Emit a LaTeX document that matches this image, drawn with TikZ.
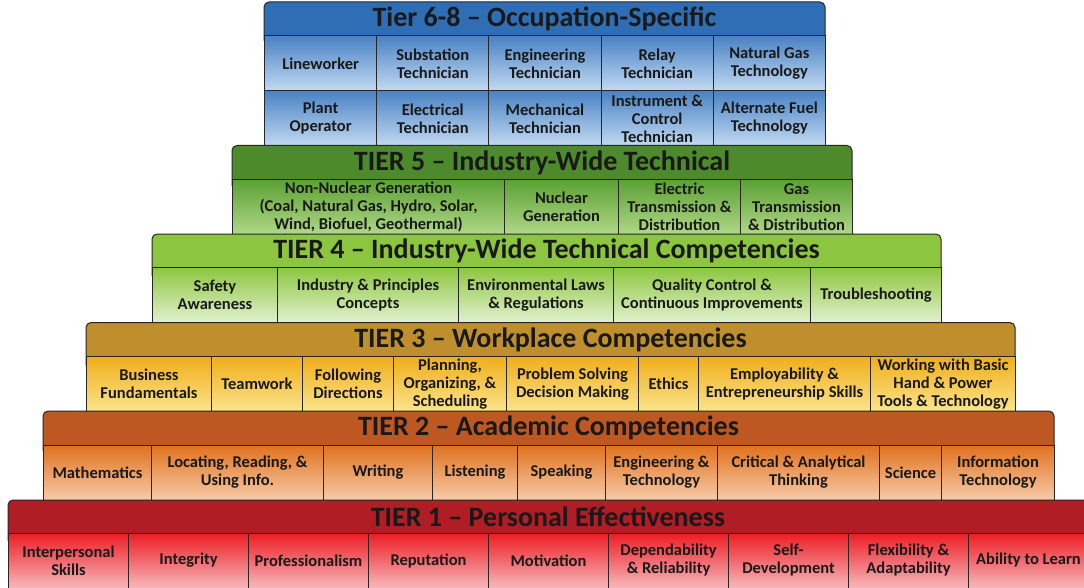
\documentclass[tikz,border=0pt]{standalone}
\usepackage{fontspec}
\setmainfont{Carlito}
\usepackage{tikz}

\definecolor{bandsix}{HTML}{2F6EB5}
\definecolor{topsix}{HTML}{4A82C4}
\definecolor{botsix}{HTML}{C3DAF2}
\definecolor{bandfive}{HTML}{4C8A2C}
\definecolor{topfive}{HTML}{5CA134}
\definecolor{botfive}{HTML}{B0D888}
\definecolor{bandfour}{HTML}{8CC540}
\definecolor{topfour}{HTML}{8DC63F}
\definecolor{botfour}{HTML}{E2F1CF}
\definecolor{bandthree}{HTML}{BF8F2D}
\definecolor{topthree}{HTML}{F0AE1A}
\definecolor{botthree}{HTML}{FBE48C}
\definecolor{bandtwo}{HTML}{BE5822}
\definecolor{toptwo}{HTML}{E0711F}
\definecolor{bottwo}{HTML}{F7CBA8}
\definecolor{bandone}{HTML}{B11D24}
\definecolor{topone}{HTML}{ED1C24}
\definecolor{botone}{HTML}{F6B8BB}

\newcommand\cellfont{\fontsize{16.5}{18}\selectfont\bfseries}
\newcommand\headfont{\fontsize{28}{30}\selectfont\bfseries}

\begin{document}
\begin{tikzpicture}[x=1pt,y=-1pt,
  band/.style={draw=black!85,line width=1pt,rounded corners=5pt},
  cell/.style={draw=black!85,line width=1pt,align=center,inner sep=0pt,
    text=black!90,font=\cellfont,anchor=north west,minimum height=55pt},
  heading/.style={font=\headfont,inner sep=0pt,text=black!90},
  tone6/.style={top color=topsix,bottom color=botsix},
  tone5/.style={top color=topfive,bottom color=botfive},
  tone4/.style={top color=topfour,bottom color=botfour},
  tone3/.style={top color=topthree,bottom color=botthree},
  tone2/.style={top color=toptwo,bottom color=bottwo},
  tone1/.style={top color=topone,bottom color=botone}]
\useasboundingbox (0,0) rectangle (1084,588);
\clip (0,0) rectangle (1084,588);

% tier 6-8
\draw[band,fill=bandsix] (264,45) -- (264,2) -- (825,2) -- (825,45) -- cycle;
\node[heading] (h6) at (544.5,19) {Tier 6-8 – Occupation-Specific};
\foreach \a/\b/\txt [count=\i] in {264/376.2/Lineworker,
    376.2/488.4/{Substation\\Technician}, 488.4/600.6/{Engineering\\Technician},
    600.6/712.8/{Relay\\Technician}, 712.8/825/{Natural Gas\\Technology}}
  \node[cell,tone6,minimum width=\b-\a] (o1-\i) at (\a,35.5) {\txt};
\foreach \a/\b/\txt [count=\i] in {264/376.2/{Plant\\Operator},
    376.2/488.4/{Electrical\\Technician}, 488.4/600.6/{Mechanical\\Technician},
    600.6/712.8/{Instrument \&\\Control\\Technician}, 712.8/825/{Alternate Fuel\\Technology}}
  \node[cell,tone6,minimum width=\b-\a] (o2-\i) at (\a,90.5) {\txt};

% tier 5
\draw[band,fill=bandfive] (232,190) -- (232,145.5) -- (852,145.5) -- (852,190) -- cycle;
\node[heading] (h5) at (542,162.5) {TIER 5 – Industry-Wide Technical};
\foreach \a/\b/\txt [count=\i] in {
    232/504/{Non-Nuclear Generation\\(Coal, Natural Gas, Hydro, Solar,\\Wind, Biofuel, Geothermal)},
    504/618/{Nuclear\\Generation}, 618/740/{Electric\\Transmission \&\\Distribution},
    740/852/{Gas\\Transmission\\\& Distribution}}
  \node[cell,tone5,minimum width=\b-\a] (t5-\i) at (\a,179) {\txt};

% tier 4
\draw[band,fill=bandfour] (152,280) -- (152,234) -- (941,234) -- (941,280) -- cycle;
\node[heading] (h4) at (546.5,251) {TIER 4 – Industry-Wide Technical Competencies};
\foreach \a/\b/\txt [count=\i] in {152/277/{Safety\\Awareness},
    277/458/{Industry \& Principles\\Concepts}, 458/613/{Environmental Laws\\\& Regulations},
    613/810/{Quality Control \&\\Continuous Improvements}, 810/941/Troubleshooting}
  \node[cell,tone4,minimum width=\b-\a] (t4-\i) at (\a,267) {\txt};

% tier 3
\draw[band,fill=bandthree] (86,370) -- (86,322.5) -- (1015,322.5) -- (1015,370) -- cycle;
\node[heading] (h3) at (550.5,339.5) {TIER 3 – Workplace Competencies};
\foreach \a/\b/\txt [count=\i] in {86/211/{Business\\Fundamentals}, 211/302/Teamwork,
    302/393/{Following\\Directions}, 393/506/{Planning,\\Organizing, \&\\Scheduling},
    506/638/{Problem Solving\\Decision Making}, 638/698/Ethics,
    698/870/{Employability \&\\Entrepreneurship Skills},
    870/1015/{Working with Basic\\Hand \& Power\\Tools \& Technology}}
  \node[cell,tone3,minimum width=\b-\a] (t3-\i) at (\a,356) {\txt};

% tier 2
\draw[band,fill=bandtwo] (43,455) -- (43,411) -- (1054,411) -- (1054,455) -- cycle;
\node[heading] (h2) at (548.5,428) {TIER 2 – Academic Competencies};
\foreach \a/\b/\txt [count=\i] in {43/151/Mathematics,
    151/323/{Locating, Reading, \&\\Using Info.}, 323/432/Writing, 432/517/Listening,
    517/605/Speaking, 605/717/{Engineering \&\\Technology},
    717/879/{Critical \& Analytical\\Thinking}, 879/941/Science,
    941/1054/{Information\\Technology}}
  \node[cell,tone2,minimum width=\b-\a] (t2-\i) at (\a,444.5) {\txt};

% tier 1
\draw[band,fill=bandone] (8,545) -- (8,500) -- (1088,500) -- (1088,545) -- cycle;
\node[heading] (h1) at (548,516.5) {TIER 1 – Personal Effectiveness};
\foreach \a/\b/\txt [count=\i] in {8/128/{Interpersonal\\Skills}, 128/248/Integrity,
    248/368/Professionalism, 368/488/Reputation, 488/608/Motivation,
    608/728/{Dependability\\\& Reliability}, 728/848/{Self-\\Development},
    848/968/{Flexibility \&\\Adaptability}, 968/1088/Ability to Learn}
  \node[cell,tone1,minimum width=\b-\a] (t1-\i) at (\a,532.5) {\txt};
\end{tikzpicture}
\end{document}
